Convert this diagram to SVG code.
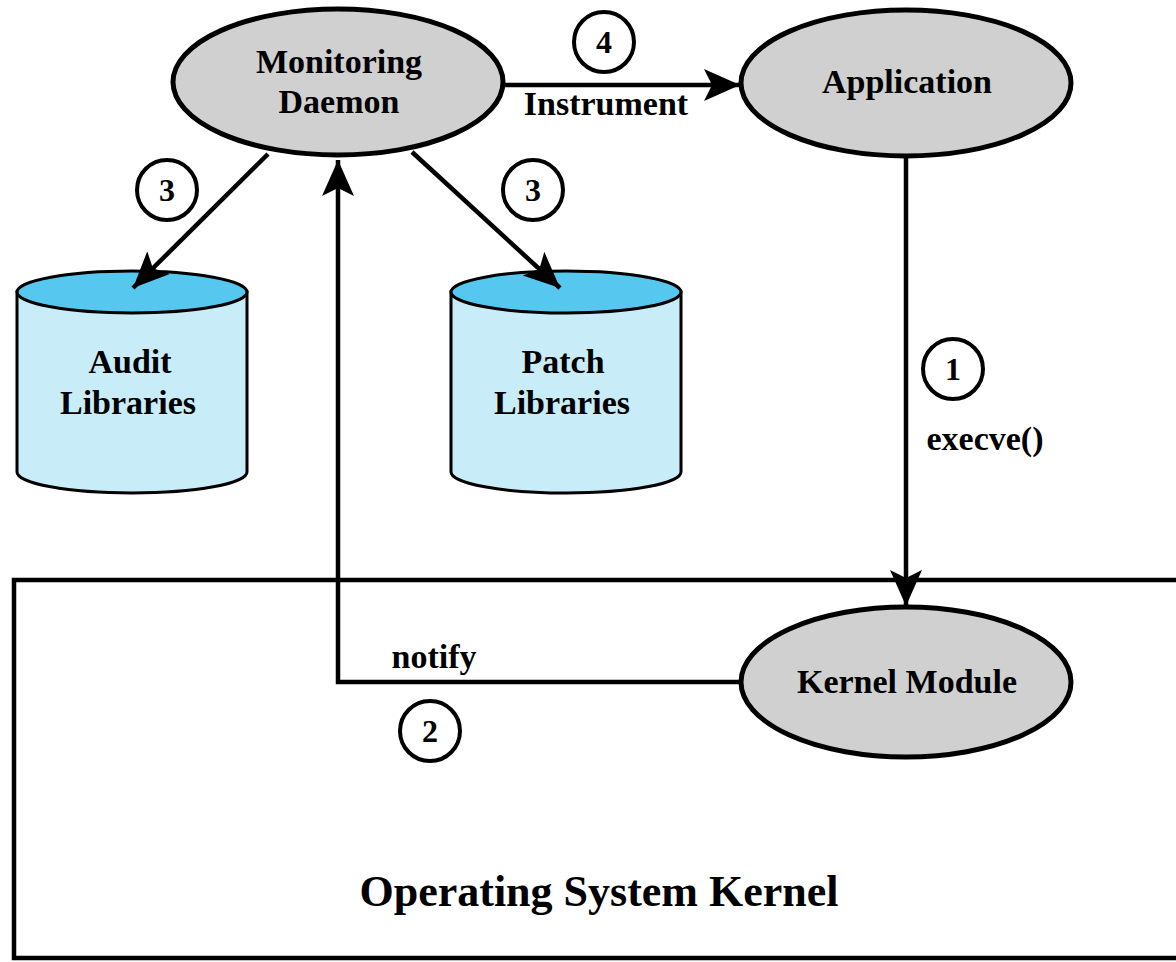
<svg xmlns="http://www.w3.org/2000/svg" width="1176" height="962" viewBox="0 0 1176 962">
<style>
.node{fill:#d0d0d0;stroke:#000;stroke-width:5}
.lbl{font-family:"Liberation Serif",serif;font-weight:bold;font-size:34px;fill:#000;text-anchor:middle}
.num{font-family:"Liberation Serif",serif;font-weight:bold;font-size:32px;fill:#000;text-anchor:middle}
.badge{fill:#fff;stroke:#000;stroke-width:4}
.conn{fill:none;stroke:#000;stroke-width:4.5}
.cylbody{fill:#c9edf8;stroke:#000;stroke-width:3}
.cyltop{fill:#56c8f0;stroke:#000;stroke-width:3}
</style>
<defs>
<marker id="arr" markerUnits="userSpaceOnUse" markerWidth="40" markerHeight="40" viewBox="0 0 40 40" refX="36" refY="20" orient="auto">
<path d="M0,4 L36,20 L0,36 L8,20 Z" fill="#000"/>
</marker>
</defs>
<rect width="1176" height="962" fill="#fff"/>
<g id="kernel">
<rect x="14" y="580" width="1180" height="378" fill="#fff" stroke="#000" stroke-width="4.5"/>
<text class="lbl" x="599" y="906" style="font-size:44px">Operating System Kernel</text>
</g>
<g id="audit">
<path class="cylbody" d="M17,292 L17,472 A115,21 0 0 0 247,472 L247,292 Z"/>
<ellipse class="cyltop" cx="132" cy="292" rx="115" ry="21"/>
<text class="lbl" x="130" y="373">Audit</text>
<text class="lbl" x="128" y="414">Libraries</text>
</g>
<g id="patch">
<path class="cylbody" d="M451,292 L451,472 A115,21 0 0 0 681,472 L681,292 Z"/>
<ellipse class="cyltop" cx="566" cy="292" rx="115" ry="21"/>
<text class="lbl" x="563" y="373">Patch</text>
<text class="lbl" x="562" y="414">Libraries</text>
</g>
<g id="connectors">
<line class="conn" x1="503" y1="85" x2="740" y2="85" marker-end="url(#arr)"/>
<line class="conn" x1="268" y1="154" x2="133" y2="288" marker-end="url(#arr)"/>
<line class="conn" x1="412" y1="152" x2="560" y2="288" marker-end="url(#arr)"/>
<line class="conn" x1="906" y1="157" x2="906" y2="606" marker-end="url(#arr)"/>
<polyline class="conn" points="741,682 338,682 338,160" marker-end="url(#arr)"/>
<text class="lbl" x="606" y="115">Instrument</text>
<text class="lbl" x="985" y="450">execve()</text>
<text class="lbl" x="434" y="668">notify</text>
</g>
<g id="daemon">
<ellipse class="node" cx="338" cy="82" rx="165" ry="73"/>
<text class="lbl" x="339" y="73">Monitoring</text>
<text class="lbl" x="339" y="113">Daemon</text>
</g>
<g id="application">
<ellipse class="node" cx="906" cy="83" rx="165" ry="73"/>
<text class="lbl" x="907" y="93">Application</text>
</g>
<g id="kmodule">
<ellipse class="node" cx="906" cy="682" rx="165" ry="75"/>
<text class="lbl" x="907" y="693">Kernel Module</text>
</g>
<g id="badges">
<circle class="badge" cx="604" cy="42" r="30"/><text class="num" x="604" y="53">4</text>
<circle class="badge" cx="167" cy="190" r="30"/><text class="num" x="167" y="201">3</text>
<circle class="badge" cx="533" cy="190" r="30"/><text class="num" x="533" y="201">3</text>
<circle class="badge" cx="953" cy="369" r="30"/><text class="num" x="953" y="380">1</text>
<circle class="badge" cx="430" cy="731" r="30"/><text class="num" x="430" y="742">2</text>
</g>
</svg>
